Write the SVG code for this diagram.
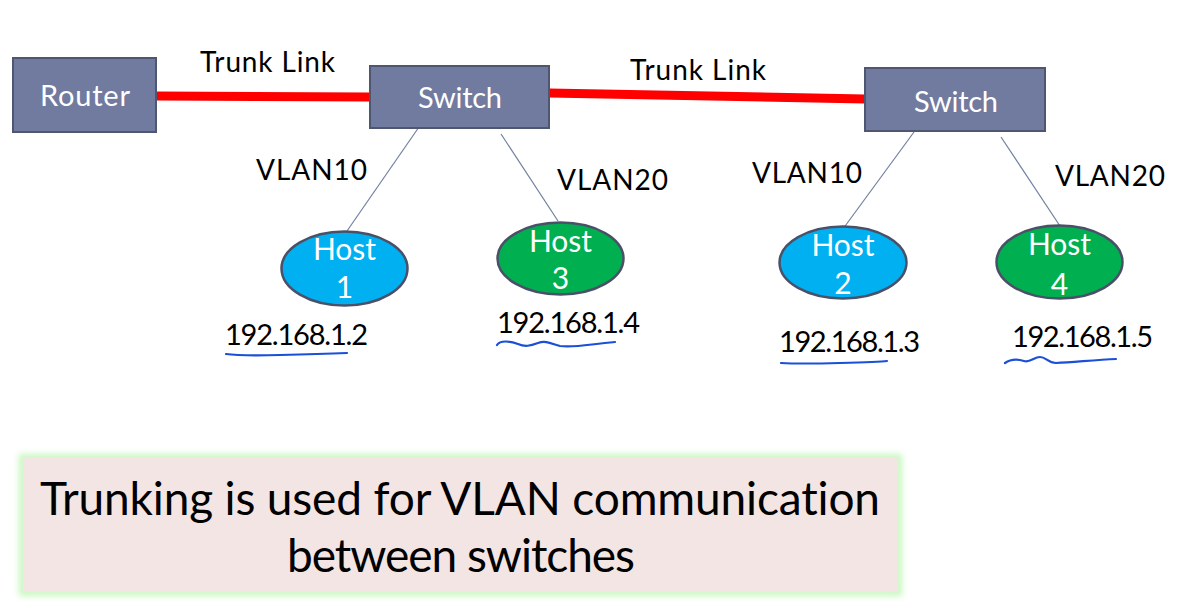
<svg xmlns="http://www.w3.org/2000/svg" width="1177" height="610" viewBox="0 0 1177 610">
<style>
text{font-family:"Lato","Open Sans","Liberation Sans",sans-serif;font-variant-ligatures:none}
.box{fill:#717BA0;stroke:#4F566F;stroke-width:2}
.btxt{fill:#fff;font-size:29px;text-anchor:middle}
.lbl{fill:#000;font-size:28px}
.ip{fill:#000;font-size:29px}
.host{stroke:#4A5068;stroke-width:2.5}
.htxt{fill:#fff;font-size:30px;text-anchor:middle}
.trunk{stroke:#FF0000;stroke-width:9;fill:none}
.vlan{stroke:#7080A0;stroke-width:1.2;fill:none}
.ul{stroke:#1A4FD8;stroke-width:2.2;fill:none;stroke-linecap:round}
</style>
<defs>
<filter id="glow" x="-5%" y="-20%" width="110%" height="140%"><feGaussianBlur stdDeviation="3"/></filter>
</defs>
<rect width="1177" height="610" fill="#fff"/>
<g id="connectors">
<line class="trunk" x1="156" y1="96" x2="370" y2="97"/>
<line class="trunk" x1="549" y1="93" x2="865" y2="99"/>
<line class="vlan" x1="419" y1="127" x2="347" y2="231"/>
<line class="vlan" x1="501" y1="134" x2="558" y2="221"/>
<line class="vlan" x1="914" y1="132" x2="840" y2="233"/>
<line class="vlan" x1="1001" y1="137" x2="1060" y2="226"/>
</g>
<g id="router"><rect class="box" x="13" y="58" width="143" height="74"/><text class="btxt" x="85" y="106" textLength="90">Router</text></g>
<g id="switch1"><rect class="box" x="370" y="66" width="179" height="62"/><text class="btxt" x="460" y="108" textLength="84">Switch</text></g>
<g id="switch2"><rect class="box" x="865" y="68" width="180" height="63"/><text class="btxt" x="956" y="112" textLength="84">Switch</text></g>
<g id="labels">
<text class="lbl" x="200" y="72" textLength="135">Trunk Link</text>
<text class="lbl" x="630" y="80" textLength="136">Trunk Link</text>
<text class="lbl" x="256" y="180" textLength="111">VLAN10</text>
<text class="lbl" x="557" y="190" textLength="111">VLAN20</text>
<text class="lbl" x="752" y="183" textLength="110">VLAN10</text>
<text class="lbl" x="1055" y="186" textLength="110">VLAN20</text>
</g>
<g id="host1"><ellipse class="host" cx="344.5" cy="268.5" rx="63" ry="37" fill="#00B0F0"/><text class="htxt" x="344.5" y="260">Host</text><text class="htxt" x="344.5" y="298">1</text></g>
<g id="host3"><ellipse class="host" cx="560.5" cy="258.5" rx="63" ry="36" fill="#00B050"/><text class="htxt" x="560.5" y="252">Host</text><text class="htxt" x="560.5" y="289">3</text></g>
<g id="host2"><ellipse class="host" cx="843" cy="262.5" rx="63.5" ry="36" fill="#00B0F0"/><text class="htxt" x="843" y="256">Host</text><text class="htxt" x="843" y="294">2</text></g>
<g id="host4"><ellipse class="host" cx="1059.5" cy="262" rx="63" ry="36.5" fill="#00B050"/><text class="htxt" x="1059.5" y="255">Host</text><text class="htxt" x="1059.5" y="295">4</text></g>
<g id="ips">
<text class="ip" x="225" y="345" textLength="143">192.168.1.2</text>
<text class="ip" x="497" y="333" textLength="143">192.168.1.4</text>
<text class="ip" x="779" y="352" textLength="141">192.168.1.3</text>
<text class="ip" x="1012" y="347" textLength="141">192.168.1.5</text>
</g>
<g id="underlines">
<path class="ul" d="M226,354 Q240,356 280,355 T347,353"/>
<path class="ul" d="M497,345 C500,340 510,341 518,344 C525,347 530,346 538,343 C546,340 552,344 560,346 C575,348 590,344 615,342"/>
<path class="ul" d="M781,363 Q800,364 840,363 T887,361"/>
<path class="ul" d="M1005,363 C1012,358 1018,359 1024,361 C1030,363 1034,357 1040,357 C1046,357 1048,363 1056,363 C1075,362 1095,360 1116,359"/>
</g>
<g id="note">
<rect x="23" y="458" width="875" height="134" fill="none" stroke="#C8F7C0" stroke-width="8" filter="url(#glow)"/>
<rect x="23" y="458" width="875" height="134" fill="#F2E5E3"/>
<text x="460" y="515" font-size="46" text-anchor="middle" fill="#000" textLength="840">Trunking is used for VLAN communication</text>
<text x="461" y="572" font-size="46" text-anchor="middle" fill="#000" textLength="348">between switches</text>
</g>
</svg>
